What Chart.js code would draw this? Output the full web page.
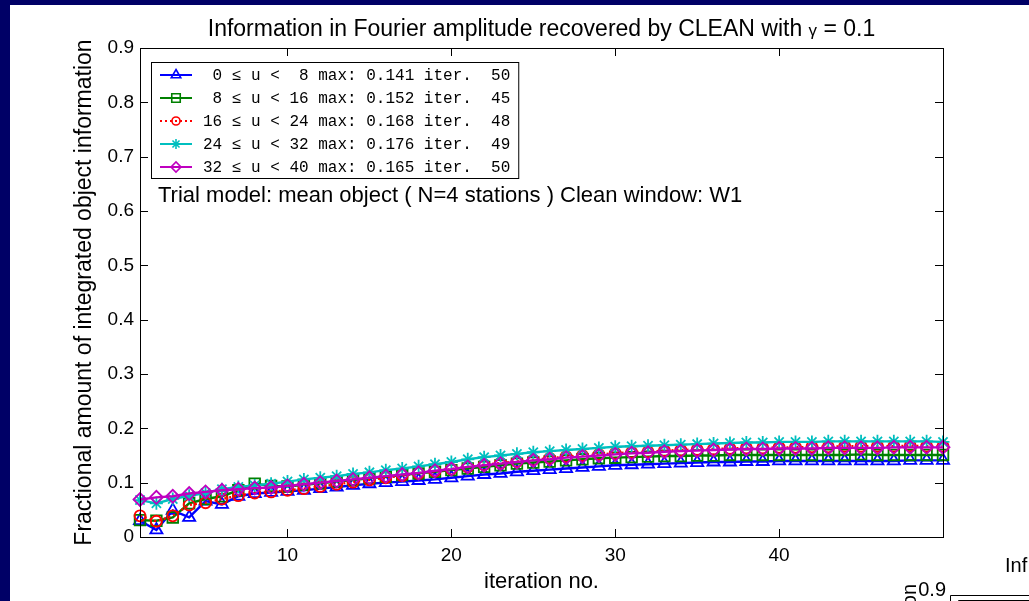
<!DOCTYPE html>
<html>
<head>
<meta charset="utf-8">
<title>CLEAN information recovery</title>
<script src="https://cdn.jsdelivr.net/npm/chart.js@4.4.1/dist/chart.umd.min.js"></script>
<style>
  html, body { margin: 0; padding: 0; background: #000066; overflow: hidden; }
  #wrap { position: absolute; left: 10px; top: 5px; width: 1019px; height: 596px; background: #fff; }
</style>
</head>
<body>
<div id="wrap"><canvas id="cleanChart" width="1019" height="596"></canvas></div>
<script>
// iteration numbers (x axis)
const iterations = [1, 2, 3, 4, 5, 6, 7, 8, 9, 10, 11, 12, 13, 14, 15, 16, 17, 18, 19, 20,
  21, 22, 23, 24, 25, 26, 27, 28, 29, 30, 31, 32, 33, 34, 35, 36, 37, 38, 39, 40,
  41, 42, 43, 44, 45, 46, 47, 48, 49, 50];

// u bands and their maxima
const bandLow = [0, 8, 16, 24, 32];
const bandHigh = [8, 16, 24, 32, 40];
const bandMax = [0.141, 0.152, 0.168, 0.176, 0.165];
const bandMaxIter = [50, 45, 48, 49, 50];

// fractional information per band
const info0to8 = [0.030, 0.013, 0.049, 0.036, 0.066, 0.060, 0.075, 0.080, 0.082, 0.084,
  0.086, 0.089, 0.092, 0.095, 0.098, 0.100, 0.102, 0.104, 0.106, 0.109,
  0.112, 0.115, 0.117, 0.120, 0.122, 0.124, 0.126, 0.128, 0.130, 0.132,
  0.133, 0.134, 0.135, 0.136, 0.137, 0.138, 0.138, 0.139, 0.139, 0.140,
  0.140, 0.140, 0.140, 0.140, 0.140, 0.140, 0.140, 0.141, 0.141, 0.141];
const info8to16 = [0.031, 0.030, 0.036, 0.062, 0.070, 0.075, 0.086, 0.098, 0.094, 0.093,
  0.096, 0.099, 0.102, 0.105, 0.108, 0.111, 0.114, 0.117, 0.120, 0.123,
  0.126, 0.129, 0.132, 0.135, 0.137, 0.139, 0.141, 0.143, 0.145, 0.146,
  0.147, 0.148, 0.149, 0.149, 0.150, 0.150, 0.151, 0.151, 0.151, 0.151,
  0.151, 0.151, 0.151, 0.151, 0.152, 0.151, 0.151, 0.151, 0.151, 0.151];
const info16to24 = [0.039, 0.029, 0.039, 0.059, 0.063, 0.070, 0.076, 0.081, 0.083, 0.086,
  0.089, 0.093, 0.097, 0.101, 0.105, 0.109, 0.113, 0.117, 0.121, 0.125,
  0.129, 0.133, 0.136, 0.139, 0.142, 0.145, 0.148, 0.150, 0.152, 0.154,
  0.156, 0.157, 0.159, 0.160, 0.161, 0.162, 0.163, 0.164, 0.164, 0.165,
  0.165, 0.166, 0.166, 0.167, 0.167, 0.167, 0.167, 0.168, 0.167, 0.167];
const info24to32 = [0.068, 0.062, 0.070, 0.076, 0.081, 0.088, 0.092, 0.095, 0.098, 0.102,
  0.106, 0.109, 0.112, 0.116, 0.119, 0.123, 0.126, 0.130, 0.134, 0.138,
  0.143, 0.147, 0.150, 0.153, 0.156, 0.158, 0.160, 0.162, 0.164, 0.166,
  0.167, 0.168, 0.169, 0.170, 0.171, 0.172, 0.173, 0.174, 0.174, 0.175,
  0.175, 0.175, 0.176, 0.176, 0.176, 0.176, 0.176, 0.176, 0.176, 0.175];
const info32to40 = [0.069, 0.073, 0.075, 0.080, 0.083, 0.086, 0.088, 0.090, 0.091, 0.094,
  0.097, 0.100, 0.103, 0.106, 0.109, 0.112, 0.115, 0.118, 0.122, 0.125,
  0.129, 0.132, 0.135, 0.138, 0.141, 0.143, 0.146, 0.148, 0.150, 0.152,
  0.154, 0.155, 0.157, 0.158, 0.159, 0.160, 0.161, 0.162, 0.162, 0.163,
  0.163, 0.163, 0.164, 0.164, 0.164, 0.164, 0.165, 0.165, 0.165, 0.165];

const xTickValues = [10, 20, 30, 40];
const yTickValues = [0, 0.1, 0.2, 0.3, 0.4, 0.5, 0.6, 0.7, 0.8, 0.9];
const yTickLabels = ['0', '0.1', '0.2', '0.3', '0.4', '0.5', '0.6', '0.7', '0.8', '0.9'];

const SANS = "'Liberation Sans', Arial, Helvetica, sans-serif";
const MONO = "'Liberation Mono', 'Courier New', monospace";

const seriesData = [info0to8, info8to16, info16to24, info24to32, info32to40];
const seriesColor = ['#0000ff', '#008000', '#ff0000', '#00bfbf', '#bf00bf'];
const seriesMarker = ['triangle', 'rect', 'circle', 'star', 'rectRot'];
const seriesRadius = [7, 7.5, 5.5, 6.5, 6.5];
const seriesDash = [[], [], [2, 3], [], []];

const datasets = seriesData.map((vals, i) => ({
  label: `${bandLow[i]} ≤ u < ${bandHigh[i]}`,
  data: vals,
  borderColor: seriesColor[i],
  borderWidth: 2.4,
  borderDash: seriesDash[i],
  pointStyle: seriesMarker[i],
  pointRadius: seriesRadius[i],
  pointBorderWidth: 1.8,
  pointBorderColor: seriesColor[i],
  pointBackgroundColor: 'rgba(0,0,0,0)',
  tension: 0,
  clip: false,
  order: 5 - i   // later bands drawn on top
}));

function legendText(i) {
  return `${String(bandLow[i]).padStart(2)} ≤ u < ${String(bandHigh[i]).padStart(2)} max: ${bandMax[i].toFixed(3)} iter. ${String(bandMaxIter[i]).padStart(3)}`;
}

// MATLAB-like box, inward ticks, legend, annotation and title
const matlabAxes = {
  id: 'matlabAxes',
  afterDraw(chart) {
    const { ctx, chartArea: a, scales: { x, y } } = chart;
    ctx.save();

    // frame + inward ticks
    ctx.strokeStyle = '#000';
    ctx.lineWidth = 1;
    ctx.setLineDash([]);
    ctx.strokeRect(a.left + 0.5, a.top + 0.5, a.right - a.left, a.bottom - a.top);
    ctx.beginPath();
    xTickValues.forEach(v => {
      const px = Math.round(x.getPixelForValue(v)) + 0.5;
      ctx.moveTo(px, a.bottom); ctx.lineTo(px, a.bottom - 8);
      ctx.moveTo(px, a.top); ctx.lineTo(px, a.top + 8);
    });
    yTickValues.forEach(v => {
      const py = Math.round(y.getPixelForValue(v)) + 0.5;
      ctx.moveTo(a.left, py); ctx.lineTo(a.left + 8, py);
      ctx.moveTo(a.right, py); ctx.lineTo(a.right - 8, py);
    });
    ctx.stroke();

    // legend box
    ctx.font = `16px ${MONO}`;
    const textX = 193;
    const rowY = [70, 93, 116, 139, 162];
    const tw = Math.max(...bandLow.map((_, i) => ctx.measureText(legendText(i)).width));
    const bx = 141, by = 57, bw = textX + tw + 8 - bx, bh = 116;
    ctx.fillStyle = '#fff';
    ctx.fillRect(bx, by, bw, bh);
    ctx.strokeRect(bx + 0.5, by + 0.5, bw, bh);

    rowY.forEach((ry, i) => {
      ctx.strokeStyle = seriesColor[i];
      ctx.lineWidth = 2;
      ctx.setLineDash(seriesDash[i]);
      ctx.beginPath();
      ctx.moveTo(150, ry); ctx.lineTo(182, ry);
      ctx.stroke();
      ctx.setLineDash([]);
      ctx.lineWidth = 1.6;
      ctx.fillStyle = 'rgba(0,0,0,0)';
      Chart.helpers.drawPoint(ctx, {
        pointStyle: seriesMarker[i], radius: seriesRadius[i] - 1.5, borderWidth: 1.6, rotation: 0
      }, 166, ry);
      ctx.fillStyle = '#000';
      ctx.textBaseline = 'middle';
      ctx.textAlign = 'left';
      ctx.fillText(legendText(i), textX, ry + 1);
    });

    // annotation inside the axes
    ctx.fillStyle = '#000';
    ctx.font = `22px ${SANS}`;
    ctx.textBaseline = 'middle';
    ctx.fillText('Trial model: mean object ( N=4 stations ) Clean window: W1', 148, 191);

    // title with a smaller gamma
    const t1 = 'Information in Fourier amplitude recovered by CLEAN with ';
    const t2 = 'γ';
    const t3 = ' = 0.1';
    const bigFont = `23px ${SANS}`, smallFont = `17px ${SANS}`;
    ctx.font = bigFont; const w1 = ctx.measureText(t1).width, w3 = ctx.measureText(t3).width;
    ctx.font = smallFont; const w2 = ctx.measureText(t2).width;
    let tx = (a.left + a.right) / 2 - (w1 + w2 + w3) / 2;
    const ty = 31;
    ctx.textBaseline = 'alphabetic';
    ctx.font = bigFont; ctx.fillText(t1, tx, ty); tx += w1;
    ctx.font = smallFont; ctx.fillText(t2, tx, ty); tx += w2;
    ctx.font = bigFont; ctx.fillText(t3, tx, ty);

    // edge of the next figure peeking in at the lower right
    ctx.font = `20px ${SANS}`;
    ctx.fillText('Inf', 995, 567);
    ctx.textAlign = 'right';
    ctx.textBaseline = 'middle';
    ctx.fillText('0.9', 936, 585);
    ctx.save();
    ctx.translate(900, 579);
    ctx.rotate(-Math.PI / 2);
    ctx.textAlign = 'right';
    ctx.fillText('information', 0, 0);
    ctx.restore();
    ctx.strokeStyle = '#000';
    ctx.lineWidth = 1;
    ctx.beginPath();
    ctx.moveTo(940.5, 596); ctx.lineTo(940.5, 590.5); ctx.lineTo(1019, 590.5);
    ctx.moveTo(948.5, 596); ctx.lineTo(948.5, 595.5); ctx.lineTo(1019, 595.5);
    ctx.stroke();

    ctx.restore();
  }
};

const ctx = document.getElementById('cleanChart').getContext('2d');
new Chart(ctx, {
  type: 'line',
  data: { labels: iterations, datasets: datasets },
  options: {
    responsive: false,
    animation: false,
    layout: { autoPadding: false, padding: { top: 43, right: 86, left: 0, bottom: 0 } },
    plugins: { legend: { display: false }, title: { display: false }, tooltip: { enabled: false } },
    scales: {
      x: {
        type: 'linear',
        min: 1,
        max: 50,
        grid: { display: false, drawTicks: false },
        border: { display: false },
        afterBuildTicks: s => { s.ticks = xTickValues.map(v => ({ value: v })); },
        afterFit: s => { s.height = 64; },
        ticks: { color: '#000', padding: 7, maxRotation: 0, font: { family: SANS, size: 19 } },
        title: { display: true, text: 'iteration no.', color: '#000', padding: { top: 0, bottom: 6 }, font: { family: SANS, size: 22 } }
      },
      y: {
        min: 0,
        max: 0.9,
        grid: { display: false, drawTicks: false },
        border: { display: false },
        afterBuildTicks: s => { s.ticks = yTickValues.map(v => ({ value: v })); },
        afterFit: s => { s.width = 130; },
        ticks: {
          color: '#000', padding: 6, font: { family: SANS, size: 19 },
          callback: (v, i) => yTickLabels[i]
        },
        title: { display: true, text: 'Fractional amount of integrated object information', color: '#000', padding: { top: 61, bottom: 0 }, font: { family: SANS, size: 23 } }
      }
    }
  },
  plugins: [matlabAxes]
});
</script>
</body>
</html>
